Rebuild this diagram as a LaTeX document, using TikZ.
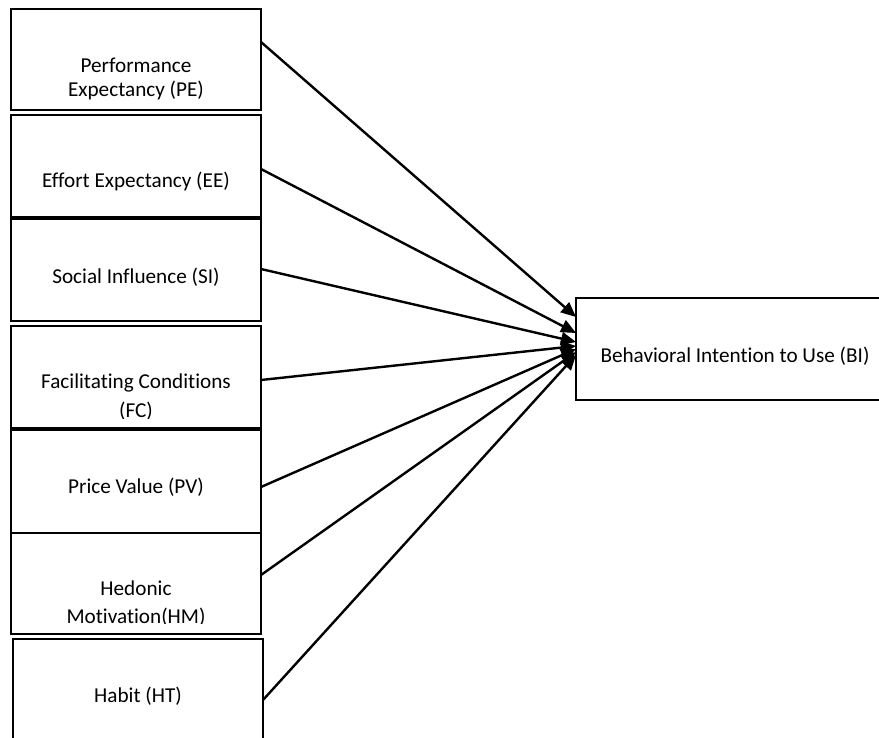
\documentclass[tikz,border=0pt]{standalone}
\usepackage{fontspec}
\setmainfont{Carlito}[Ligatures=NoCommon]
\usetikzlibrary{arrows.meta,calc}
\begin{document}
\begin{tikzpicture}[x=0.5pt,y=-0.5pt,
  box/.style={draw, line width=1.1pt, inner sep=0pt, outer sep=0pt, anchor=north west, minimum width=125pt},
  txt/.style={anchor=base, align=center, inner sep=0pt, font=\fontsize{10.6}{12}\selectfont},
  arr/.style={-{Triangle[length=7.5pt,width=6.5pt]}, line width=1.2pt}]
\clip (0,0) rectangle (879,738);
\fill[white] (0,0) rectangle (879,738);
% boxes
\node[box, minimum height=50.5pt] (pe) at (11,9) {};
\node[box, minimum height=51pt] (ee) at (11,115) {};
\node[box, minimum height=51pt] (si) at (11,219) {};
\node[box, minimum height=51pt] (fc) at (11,326) {};
\node[box, minimum height=51.5pt] (pv) at (11,430) {};
\node[box, minimum height=50.5pt] (hm) at (11,533) {};
\node[box, minimum height=60pt] (ht) at (13,639) {};
\node[box, minimum width=160pt, minimum height=51pt] (bi) at (576,298) {};
% texts (base anchor = last line)
\node[txt] (pet) at (136,97) {Performance\\Expectancy (PE)};
\node[txt] (eet) at (136,188) {Effort Expectancy (EE)};
\node[txt] (sit) at (136,283) {Social Influence (SI)};
\begin{scope}
\clip (11,326) rectangle (261,418);
\node[txt, font=\fontsize{10.6}{14.5}\selectfont] (fct) at (136,417) {Facilitating Conditions\\(FC)};
\end{scope}
\node[txt] (pvt) at (136,493) {Price Value (PV)};
\begin{scope}
\clip (11,533) rectangle (261,623);
\node[txt, font=\fontsize{10.6}{14}\selectfont] (hmt) at (136,623) {Hedonic\\Motivation(HM)};
\end{scope}
\node[txt] (htt) at (138,702) {Habit (HT)};
\node[txt] (bit) at (735,362) {Behavioral Intention to Use (BI)};
% arrows
\draw[arr] ($(pe.north east)+(0,33)$) -- ($(bi.north west)+(0,19)$);
\draw[arr] ($(ee.north east)+(0,54)$) -- ($(bi.north west)+(0,35)$);
\draw[arr] ($(si.north east)+(0,50)$) -- ($(bi.north west)+(0,44)$);
\draw[arr] ($(fc.north east)+(0,54)$) -- ($(bi.north west)+(0,48)$);
\draw[arr] ($(pv.north east)+(0,57)$) -- ($(bi.north west)+(0,51)$);
\draw[arr] ($(hm.north east)+(0,42)$) -- ($(bi.north west)+(0,54)$);
\draw[arr] ($(ht.north east)+(0,61)$) -- ($(bi.north west)+(0,57)$);
\end{tikzpicture}
\end{document}
